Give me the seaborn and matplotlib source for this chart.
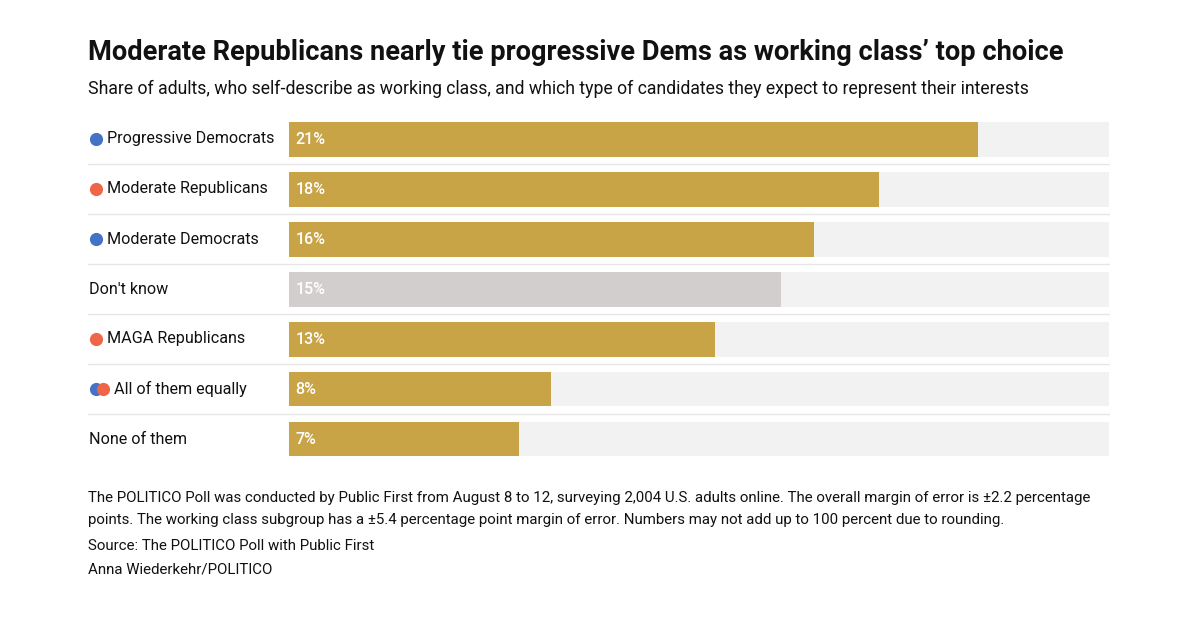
import matplotlib.pyplot as plt
import matplotlib.transforms as mtransforms
import pandas as pd
import seaborn as sns

# data
categories = [
    "Progressive Democrats",
    "Moderate Republicans",
    "Moderate Democrats",
    "Don't know",
    "MAGA Republicans",
    "All of them equally",
    "None of them",
]
shares = [21, 18, 16, 15, 13, 8, 7]
party = ["dem", "rep", "dem", "none", "rep", "both", "none"]
axis_max = 25

GOLD = "#C9A447"
GRAY_BAR = "#D2CECE"
TRACK = "#F2F2F2"
BLUE = "#4472C4"
RED = "#EE6548"
TEXT = "#111111"

df = pd.DataFrame({"category": categories, "share": shares, "party": party})
df["kind"] = ["gray" if c == "Don't know" else "gold" for c in categories]
df["track"] = axis_max

sns.set_theme(style="white")
plt.rcParams["font.family"] = ["Roboto", "DejaVu Sans"]

fig = plt.figure(figsize=(12, 6.26), dpi=100)
W, H = 1200, 626
left, right, top, bottom = 289, 1109, 114, 464
ax = fig.add_axes([left / W, 1 - bottom / H, (right - left) / W, (bottom - top) / H])

sns.barplot(data=df, y="category", x="track", color=TRACK, width=0.7,
            orient="h", ax=ax, saturation=1, linewidth=0)
sns.barplot(data=df, y="category", x="share", hue="kind",
            palette={"gold": GOLD, "gray": GRAY_BAR}, width=0.7,
            orient="h", ax=ax, saturation=1, legend=False, linewidth=0)

ax.set_xlim(0, axis_max)
ax.set_ylim(len(categories) - 0.5, -0.5)
ax.set_xlabel("")
ax.set_ylabel("")
ax.set_xticks([])
ax.set_yticks([])
for s in ax.spines.values():
    s.set_visible(False)

# row separators, extending left under the labels
sep_xmin = (88 - left) / (right - left)
for i in range(len(categories) - 1):
    ax.axhline(i + 0.5, xmin=sep_xmin, xmax=1, color="#E6E6E6", lw=1, clip_on=False)

trans = mtransforms.blended_transform_factory(ax.transAxes, ax.transData)
dot_x = (96 - left) / (right - left)
dot_dx = 7 / (right - left)
label_x_dot = (107 - left) / (right - left)
label_x = (89 - left) / (right - left)

for i, row in df.iterrows():
    p = row["party"]
    if p == "dem":
        ax.scatter([dot_x], [i], s=90, color=BLUE, transform=trans, clip_on=False, lw=0, zorder=5)
    elif p == "rep":
        ax.scatter([dot_x], [i], s=90, color=RED, transform=trans, clip_on=False, lw=0, zorder=5)
    elif p == "both":
        ax.scatter([dot_x], [i], s=90, color=BLUE, transform=trans, clip_on=False, lw=0, zorder=5)
        ax.scatter([dot_x + dot_dx], [i], s=90, color=RED, transform=trans, clip_on=False, lw=0, zorder=6)
    lx = label_x if p == "none" else label_x_dot
    if p == "both":
        lx = label_x_dot + dot_dx
    ax.text(lx, i, row["category"], transform=trans, ha="left", va="center",
            fontsize=11.6, color=TEXT)
    ax.text(0.2, i, f"{row['share']}%", ha="left", va="center",
            fontsize=11.5, fontweight="medium", color="white")

fig.text(88 / W, 1 - 52 / H, "Moderate Republicans nearly tie progressive Dems as working class\u2019 top choice",
         fontsize=19.6, fontweight="bold", color=TEXT, ha="left", va="center")
fig.text(88 / W, 1 - 89 / H,
         "Share of adults, who self-describe as working class, and which type of candidates they expect to represent their interests",
         fontsize=12.7, color=TEXT, ha="left", va="center")

notes = [
    "The POLITICO Poll was conducted by Public First from August 8 to 12, surveying 2,004 U.S. adults online. The overall margin of error is \u00b12.2 percentage",
    "points. The working class subgroup has a \u00b15.4 percentage point margin of error. Numbers may not add up to 100 percent due to rounding.",
    "Source: The POLITICO Poll with Public First",
    "Anna Wiederkehr/POLITICO",
]
note_y = [498, 520, 546, 569]
for t, y in zip(notes, note_y):
    fig.text(88 / W, 1 - y / H, t, fontsize=10.8, color=TEXT, ha="left", va="center")

fig.savefig("out.png", dpi=100, facecolor="white")
